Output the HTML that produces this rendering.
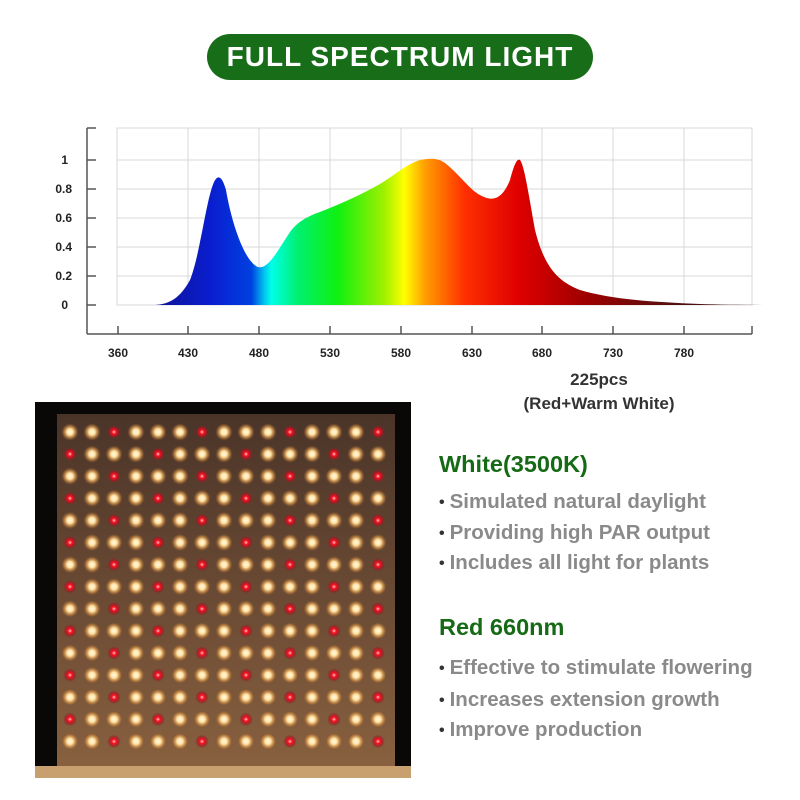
<!DOCTYPE html>
<html><head><meta charset="utf-8"><style>
body{margin:0;background:#fff;width:800px;height:800px;overflow:hidden;position:relative;font-family:"Liberation Sans",Arial,sans-serif}
.pill{position:absolute;left:207px;top:34px;width:386px;height:46px;border-radius:23px;background:#186d18;color:#fff;font-weight:bold;font-size:28px;text-align:center;line-height:46px;letter-spacing:1px}
.t{position:absolute;font-weight:bold;white-space:nowrap}
.h{color:#166a16;font-size:23.5px}
.b{color:#8a8a8a;font-size:20.5px}
.b:before{content:"\2022";color:#333;font-size:16px;margin-right:5px;position:relative;top:-1px}
</style></head><body>
<div class="pill">FULL SPECTRUM LIGHT</div>
<svg width="800" height="800" style="position:absolute;left:0;top:0" id="s">
<defs>
<linearGradient id="g" x1="145" x2="810" y1="0" y2="0" gradientUnits="userSpaceOnUse">
<stop offset="0" stop-color="#10108a"/>
<stop offset="0.1" stop-color="#0a1ed0"/>
<stop offset="0.16" stop-color="#0040e0"/>
<stop offset="0.18" stop-color="#00c8f0"/>
<stop offset="0.19" stop-color="#00ffe8"/>
<stop offset="0.23" stop-color="#00f070"/>
<stop offset="0.29" stop-color="#10f010"/>
<stop offset="0.36" stop-color="#a0f000"/>
<stop offset="0.39" stop-color="#ffff00"/>
<stop offset="0.42" stop-color="#ffa000"/>
<stop offset="0.48" stop-color="#ff3000"/>
<stop offset="0.56" stop-color="#e00000"/>
<stop offset="0.66" stop-color="#a00000"/>
<stop offset="0.8" stop-color="#501010"/>
<stop offset="1" stop-color="#301818"/>
</linearGradient>
<radialGradient id="w"><stop offset="0" stop-color="#fffbe8"/><stop offset="0.35" stop-color="#ffe0a0"/><stop offset="0.7" stop-color="#d08a40" stop-opacity="0.6"/><stop offset="1" stop-color="#6a4a30" stop-opacity="0"/></radialGradient>
<radialGradient id="r"><stop offset="0" stop-color="#ffd0d0"/><stop offset="0.3" stop-color="#ff1020"/><stop offset="0.7" stop-color="#b01020" stop-opacity="0.6"/><stop offset="1" stop-color="#6a3a30" stop-opacity="0"/></radialGradient>
<linearGradient id="bd" x1="0" y1="0" x2="0" y2="1"><stop offset="0" stop-color="#4a3428"/><stop offset="0.5" stop-color="#6a4a34"/><stop offset="1" stop-color="#8a6240"/></linearGradient>
</defs>
<g stroke="#d8d8d8" stroke-width="1" fill="none">
<rect x="117" y="128" width="635" height="177"/>
<line x1="117" y1="160" x2="752" y2="160"/><line x1="117" y1="189" x2="752" y2="189"/><line x1="117" y1="218" x2="752" y2="218"/><line x1="117" y1="247" x2="752" y2="247"/><line x1="117" y1="276" x2="752" y2="276"/>
<line x1="188" y1="128" x2="188" y2="305"/><line x1="259" y1="128" x2="259" y2="305"/><line x1="330" y1="128" x2="330" y2="305"/><line x1="401" y1="128" x2="401" y2="305"/><line x1="472" y1="128" x2="472" y2="305"/><line x1="542" y1="128" x2="542" y2="305"/><line x1="613" y1="128" x2="613" y2="305"/><line x1="684" y1="128" x2="684" y2="305"/>
</g>
<path fill="url(#g)" d="M155,305 C170,304 180,298 190,280 C200,255 206,200 214,182 C218,174 222,176 226,190 C232,225 245,262 258,267 C268,270 278,250 290,232 C300,218 315,214 325,210 C345,202 360,195 380,184 C395,175 405,165 420,160 C430,158 438,158 445,163 C460,175 470,190 480,195 C492,202 502,200 510,180 C514,165 517,158 520,160 C524,165 528,190 535,230 C545,270 560,282 580,290 C610,299 650,302 700,304 C730,305 760,305 805,305 Z"/>
<g stroke="#555" stroke-width="1.5">
<line x1="87" y1="128" x2="87" y2="334"/><line x1="87" y1="334" x2="752" y2="334"/>
<line x1="87" y1="128" x2="96" y2="128"/>
<line x1="87" y1="160" x2="96" y2="160"/><line x1="87" y1="189" x2="96" y2="189"/><line x1="87" y1="218" x2="96" y2="218"/><line x1="87" y1="247" x2="96" y2="247"/><line x1="87" y1="276" x2="96" y2="276"/><line x1="87" y1="305" x2="96" y2="305"/>
<line x1="118" y1="326" x2="118" y2="334"/><line x1="188" y1="326" x2="188" y2="334"/><line x1="259" y1="326" x2="259" y2="334"/><line x1="330" y1="326" x2="330" y2="334"/><line x1="401" y1="326" x2="401" y2="334"/><line x1="472" y1="326" x2="472" y2="334"/><line x1="542" y1="326" x2="542" y2="334"/><line x1="613" y1="326" x2="613" y2="334"/><line x1="684" y1="326" x2="684" y2="334"/><line x1="752" y1="326" x2="752" y2="334"/>
</g>
<g font-family="Liberation Sans,sans-serif" font-weight="bold" font-size="12" fill="#222" text-anchor="end">
<text x="68" y="164">1</text><text x="72" y="193">0.8</text><text x="72" y="222">0.6</text><text x="72" y="251">0.4</text><text x="72" y="280">0.2</text><text x="68" y="309">0</text>
</g>
<g font-family="Liberation Sans,sans-serif" font-weight="bold" font-size="12" fill="#222" text-anchor="middle">
<text x="118" y="357">360</text><text x="188" y="357">430</text><text x="259" y="357">480</text><text x="330" y="357">530</text><text x="401" y="357">580</text><text x="472" y="357">630</text><text x="542" y="357">680</text><text x="613" y="357">730</text><text x="684" y="357">780</text>
</g>
<g font-family="Liberation Sans,sans-serif" font-weight="bold" font-size="17" fill="#333" text-anchor="middle">
<text x="599" y="385">225pcs</text><text x="599" y="409">(Red+Warm White)</text>
</g>
<rect x="35" y="402" width="376" height="376" fill="#0a0806"/>
<rect x="57" y="414" width="338" height="364" fill="url(#bd)"/>
<rect x="35" y="766" width="376" height="12" fill="#c8a070"/>
<g id="leds"></g>
</svg>
<div class="t h" style="left:439px;top:451px">White(3500K)</div>
<div class="t b" style="left:439px;top:490px">Simulated natural daylight</div>
<div class="t b" style="left:439px;top:521px">Providing high PAR output</div>
<div class="t b" style="left:439px;top:551px">Includes all light for plants</div>
<div class="t h" style="left:439px;top:614px">Red 660nm</div>
<div class="t b" style="left:439px;top:656px">Effective to stimulate flowering</div>
<div class="t b" style="left:439px;top:688px">Increases extension growth</div>
<div class="t b" style="left:439px;top:718px">Improve production</div>
<script>
var g=document.getElementById('leds'),h='';
for(var r=0;r<15;r++)for(var c=0;c<15;c++){
var x=70+c*22,y=432+r*22.1;
var red=(r%2==0)?(c%4==2):(c%4==0);
h+='<circle cx="'+x+'" cy="'+y+'" r="'+(red?7:9)+'" fill="url(#'+(red?'r':'w')+')"/>';
}
g.innerHTML=h;
</script>
</body></html>
